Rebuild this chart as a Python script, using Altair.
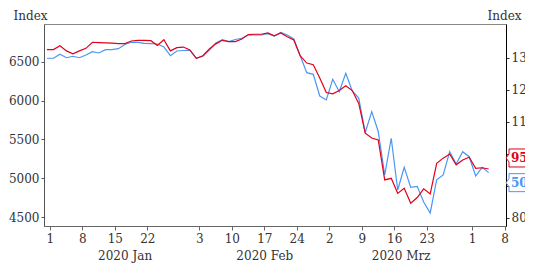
import altair as alt
import numpy as np
import pandas as pd

# ---------------- data ----------------
FIRST_DAY = "2019-12-31"
LAST_DAY = "2020-04-03"
trading_days = pd.bdate_range(FIRST_DAY, LAST_DAY)

# red series (right axis, Index)
red_vals = [132.6, 132.6, 133.8, 132.2, 131.3, 132.2, 133.0, 134.9, 134.8, 134.7,
            134.6, 134.5, 134.5, 135.3, 135.5, 135.5, 135.4, 133.9, 135.7, 132.2,
            133.2, 133.4, 132.5, 129.9, 130.7, 132.8, 134.4, 135.5, 135.1, 135.1,
            135.9, 137.3, 137.4, 137.4, 137.8, 136.9, 137.8, 136.6, 135.6, 130.6,
            128.4, 127.9, 123.7, 119.2, 118.8, 119.8, 121.3, 119.8, 115.8, 106.5,
            105.0, 104.4, 91.9, 92.4, 87.7, 89.3, 84.6, 86.4, 89.1, 87.5,
            97.1, 98.7, 100.0, 96.6, 98.1, 99.0, 95.5, 95.7, 95.31]

# blue series (left axis, Index)
blue_vals = [6548, 6548, 6599, 6555, 6574, 6555, 6590, 6633, 6616, 6659,
             6659, 6672, 6726, 6754, 6754, 6739, 6736, 6732, 6694, 6581,
             6642, 6648, 6651, 6548, 6574, 6655, 6745, 6788, 6762, 6790,
             6806, 6848, 6848, 6848, 6865, 6835, 6883, 6848, 6797, 6577,
             6362, 6341, 6061, 6010, 6277, 6117, 6354, 6126, 6035, 5590,
             5859, 5603, 5042, 5516, 4848, 5141, 4883, 4896, 4694, 4552,
             4981, 5042, 5343, 5184, 5343, 5278, 5029, 5141, 5072.12]

tick_dates = ["2020-01-01", "2020-01-08", "2020-01-15", "2020-01-22",
              "2020-02-03", "2020-02-10", "2020-02-17", "2020-02-24",
              "2020-03-02", "2020-03-09", "2020-03-16", "2020-03-23",
              "2020-04-01", "2020-04-08"]
tick_labels = ["1", "8", "15", "22", "3", "10", "17", "24",
               "2", "9", "16", "23", "1", "8"]
month_starts = ["2020-01-01", "2020-02-01", "2020-03-01", "2020-04-01"]
month_labels = ["2020 Jan", "2020 Feb", "2020 Mrz"]

left_ticks = [4500, 5000, 5500, 6000, 6500]
right_ticks = [80, 90, 100, 110, 120, 130]
right_hidden = [90, 100]  # covered by the last-value boxes

# ---------------- helpers ----------------
ORIGIN = "2020-01-01"
CLOSE = 0.545  # closing quote sits inside its trading-day slot


def bidx(d):
    return int(np.busday_count(ORIGIN, pd.Timestamp(d).date()))


df = pd.DataFrame({
    "pos": [bidx(d) + CLOSE for d in trading_days],
    "red": red_vals,
    "blue": blue_vals,
})

tick_pos = [bidx(d) for d in tick_dates]
ms = [bidx(d) for d in month_starts]
month_pos = [(ms[i] + ms[i + 1]) / 2 for i in range(len(month_labels))]

X_DOMAIN = [-0.91, 70.215]
LEFT_DOMAIN = [4384, 6990]
RIGHT_DOMAIN = [77.5, 140.6]

RED = "#e2001a"
BLUE = "#4a96f5"
FONT = "DejaVu Serif"
TXT = "#333333"

W, H = 462, 202


def js_list(vals, quote=False):
    if quote:
        return "[" + ",".join("'" + v + "'" for v in vals) + "]"
    return "[" + ",".join(repr(v) for v in vals) + "]"


day_expr = f"{js_list(tick_labels, True)}[indexof({js_list(tick_pos)}, datum.value)]"
month_expr = f"{js_list(month_labels, True)}[indexof({js_list(month_pos)}, datum.value)]"
right_expr = f"indexof({js_list(right_hidden)}, datum.value) >= 0 ? '' : datum.label"

x_scale = alt.Scale(domain=X_DOMAIN, nice=False, zero=False)
left_scale = alt.Scale(domain=LEFT_DOMAIN, nice=False, zero=False)
right_scale = alt.Scale(domain=RIGHT_DOMAIN, nice=False, zero=False)

day_axis = alt.Axis(orient="bottom", values=tick_pos, labelExpr=day_expr,
                    title=None, grid=False, tickSize=4, labelPadding=3,
                    domainColor="#666666", tickColor="#666666",
                    labelColor=TXT, labelFont=FONT, labelFontSize=12,
                    labelFlush=False, labelOverlap=False)
month_axis = alt.Axis(orient="bottom", values=month_pos, labelExpr=month_expr,
                      title=None, grid=False, ticks=False, tickSize=0,
                      domain=False, offset=20, labelPadding=4,
                      labelColor=TXT, labelFont=FONT, labelFontSize=12,
                      labelFlush=False, labelOverlap=False)
left_axis = alt.Axis(orient="left", values=left_ticks, format="d", title="Index",
                     grid=False, tickSize=3, labelPadding=2,
                     domainColor="#555555", tickColor="#555555",
                     labelColor=TXT, labelFont=FONT, labelFontSize=12,
                     titleFont=FONT, titleFontSize=12, titleFontWeight="normal",
                     titleColor=TXT, titleAngle=0, titleAlign="left",
                     titleBaseline="alphabetic", titleX=-31, titleY=-5,
                     labelFlush=False, labelOverlap=False)
right_axis = alt.Axis(orient="right", values=right_ticks, format="d", title="Index",
                      labelExpr=right_expr,
                      grid=False, tickSize=3, labelPadding=2,
                      domainColor="#000000", tickColor="#333333",
                      labelColor=TXT, labelFont=FONT, labelFontSize=12,
                      titleFont=FONT, titleFontSize=12, titleFontWeight="normal",
                      titleColor=TXT, titleAngle=0, titleAlign="left",
                      titleBaseline="alphabetic", titleX=-19, titleY=-5,
                      labelFlush=False, labelOverlap=False)

BOX_PATH = "M0,0L0.375,-0.5L0.375,-1.125L5,-1.125L5,1.125L0.375,1.125L0.375,0.5Z"

# ---------------- blue group (left axis) ----------------
blue_line = alt.Chart(df).mark_line(color=BLUE, strokeWidth=1.2).encode(
    x=alt.X("pos:Q", scale=x_scale, axis=day_axis),
    y=alt.Y("blue:Q", scale=left_scale, axis=left_axis),
)
blue_last = pd.DataFrame({"v": [blue_vals[-1]], "xe": [X_DOMAIN[1]]})
blue_box = alt.Chart(blue_last).mark_point(
    shape=BOX_PATH, size=256, fill="white", stroke=BLUE, strokeWidth=1,
    opacity=1, fillOpacity=1, strokeOpacity=1, yOffset=10,
).encode(x=alt.X("xe:Q", scale=x_scale, axis=day_axis),
         y=alt.Y("v:Q", scale=left_scale, axis=left_axis))
blue_txt = alt.Chart(blue_last).mark_text(
    align="left", baseline="middle", dx=5, dy=10, font=FONT, fontSize=12,
    fontWeight="bold", color=BLUE,
).encode(x=alt.X("xe:Q", scale=x_scale, axis=day_axis),
         y=alt.Y("v:Q", scale=left_scale, axis=left_axis),
         text=alt.Text("v:Q", format=".2f"))
blue_group = alt.layer(blue_line, blue_box, blue_txt)

# ---------------- red group (right axis) ----------------
red_line = alt.Chart(df).mark_line(color=RED, strokeWidth=1.2).encode(
    x=alt.X("pos:Q", scale=x_scale, axis=month_axis),
    y=alt.Y("red:Q", scale=right_scale, axis=right_axis),
)
red_last = pd.DataFrame({"v": [red_vals[-1]], "xe": [X_DOMAIN[1]]})
red_box = alt.Chart(red_last).mark_point(
    shape=BOX_PATH, size=256, fill="white", stroke=RED, strokeWidth=1,
    opacity=1, fillOpacity=1, strokeOpacity=1, yOffset=-11,
).encode(x=alt.X("xe:Q", scale=x_scale, axis=month_axis),
         y=alt.Y("v:Q", scale=right_scale, axis=right_axis))
red_txt = alt.Chart(red_last).mark_text(
    align="left", baseline="middle", dx=5, dy=-11, font=FONT, fontSize=12,
    fontWeight="bold", color=RED,
).encode(x=alt.X("xe:Q", scale=x_scale, axis=month_axis),
         y=alt.Y("v:Q", scale=right_scale, axis=right_axis),
         text=alt.Text("v:Q", format=".2f"))
red_group = alt.layer(red_line, red_box, red_txt)

chart = (
    alt.layer(blue_group, red_group)
    .resolve_scale(x="independent", y="independent")
    .properties(width=W, height=H,
                autosize=alt.AutoSizeParams(type="none"),
                padding={"left": 36, "top": 16, "right": 19, "bottom": 44},
                background="white")
    .configure_view(stroke="#888888", strokeWidth=1)
)

chart.save("out.html", embed_options={"renderer": "svg", "actions": False})
